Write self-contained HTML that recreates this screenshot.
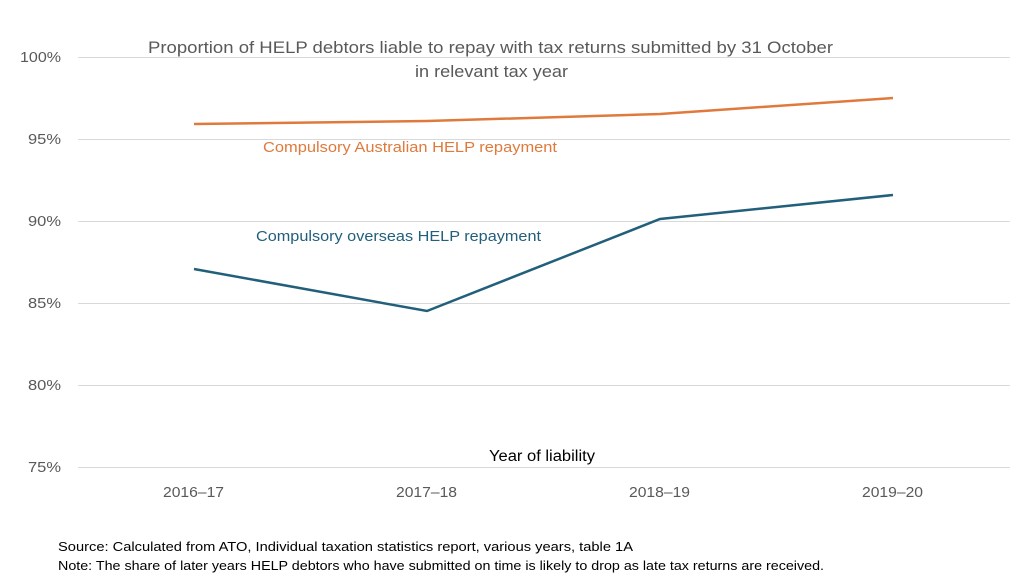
<!DOCTYPE html>
<html><head><meta charset="utf-8"><style>
body{margin:0;background:#fff;}
svg text{font-family:"Liberation Sans",Arial,sans-serif;}
</style></head><body>
<svg width="1024" height="576" viewBox="0 0 1024 576" xmlns="http://www.w3.org/2000/svg">
<rect width="1024" height="576" fill="#fff"/>
<g stroke="#d9d9d9" stroke-width="1">
<line x1="78" y1="57.5" x2="1010" y2="57.5"/>
<line x1="78" y1="139.5" x2="1010" y2="139.5"/>
<line x1="78" y1="221.5" x2="1010" y2="221.5"/>
<line x1="78" y1="303.5" x2="1010" y2="303.5"/>
<line x1="78" y1="385.5" x2="1010" y2="385.5"/>
<line x1="78" y1="467.5" x2="1010" y2="467.5"/>
</g>
<g font-size="14.5" fill="#595959">
<text x="20" y="62" textLength="41" lengthAdjust="spacingAndGlyphs">100%</text>
<text x="28" y="144" textLength="33" lengthAdjust="spacingAndGlyphs">95%</text>
<text x="28" y="226" textLength="33" lengthAdjust="spacingAndGlyphs">90%</text>
<text x="28" y="308" textLength="33" lengthAdjust="spacingAndGlyphs">85%</text>
<text x="28" y="390" textLength="33" lengthAdjust="spacingAndGlyphs">80%</text>
<text x="28" y="472" textLength="33" lengthAdjust="spacingAndGlyphs">75%</text>
</g>
<g font-size="14.5" fill="#595959">
<text x="163" y="497" textLength="61" lengthAdjust="spacingAndGlyphs">2016–17</text>
<text x="396" y="497" textLength="61" lengthAdjust="spacingAndGlyphs">2017–18</text>
<text x="629" y="497" textLength="61" lengthAdjust="spacingAndGlyphs">2018–19</text>
<text x="862" y="497" textLength="61" lengthAdjust="spacingAndGlyphs">2019–20</text>
</g>
<text x="148" y="53" font-size="16.5" fill="#595959" textLength="685" lengthAdjust="spacingAndGlyphs">Proportion of HELP debtors liable to repay with tax returns submitted by 31 October</text>
<text x="415" y="77" font-size="16.5" fill="#595959" textLength="153" lengthAdjust="spacingAndGlyphs">in relevant tax year</text>
<polyline points="194,124 427,121 660,114 893,98" fill="none" stroke="#e07a3c" stroke-width="2.5"/>
<polyline points="194,269 427,311 660,219 893,195" fill="none" stroke="#215f7b" stroke-width="2.5"/>
<text x="263" y="152" font-size="15" fill="#e07a3c" textLength="294" lengthAdjust="spacingAndGlyphs">Compulsory Australian HELP repayment</text>
<text x="256" y="241" font-size="15" fill="#215f7b" textLength="285" lengthAdjust="spacingAndGlyphs">Compulsory overseas HELP repayment</text>
<text x="489" y="461" font-size="15.5" fill="#000" textLength="106" lengthAdjust="spacingAndGlyphs">Year of liability</text>
<text x="58" y="551" font-size="13" fill="#000" textLength="575" lengthAdjust="spacingAndGlyphs">Source: Calculated from ATO, Individual taxation statistics report, various years, table 1A</text>
<text x="58" y="570" font-size="13" fill="#000" textLength="766" lengthAdjust="spacingAndGlyphs">Note: The share of later years HELP debtors who have submitted on time is likely to drop as late tax returns are received.</text>
</svg>
</body></html>
